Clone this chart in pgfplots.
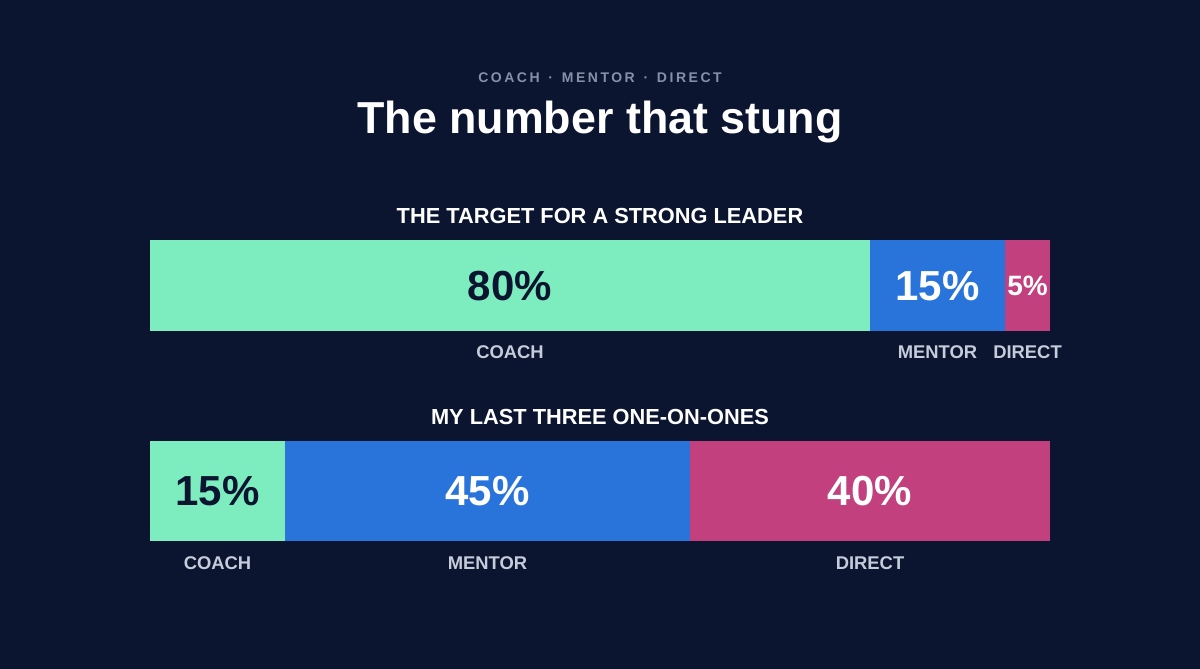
\documentclass[border=0pt]{standalone}
\usepackage{pgfplots}
\pgfplotsset{compat=1.18}
\usepackage{fontspec}
\setmainfont{Liberation Sans}
\definecolor{bg}{HTML}{0B1530}
\definecolor{coach}{HTML}{7DEDC0}
\definecolor{mentor}{HTML}{2874DB}
\definecolor{direct}{HTML}{C1407D}
\definecolor{lbl}{HTML}{C5CCDA}
\definecolor{sub}{HTML}{8790A8}
\pgfplotsset{
  barstyle/.style={
    scale only axis, width=450pt, xmin=0, xmax=100, ymin=-0.5, ymax=0.5,
    xbar stacked, hide axis, clip=false, anchor=south west,
  },
}
\tikzset{
  pct/.style={anchor=base, font=\fontsize{21}{24}\selectfont\bfseries},
  cat/.style={anchor=base, text=lbl, font=\fontsize{9.2}{11}\selectfont\bfseries},
}
\begin{document}
\begin{tikzpicture}
\fill[bg] (0pt,0pt) rectangle (600pt,334.5pt);
\node[anchor=base, text=sub, font=\fontsize{7}{9}\selectfont\bfseries\addfontfeature{LetterSpace=18}] at (300pt,293pt) {COACH \,·\, MENTOR \,·\, DIRECT};
\node[anchor=base, text=white, font=\fontsize{22.4}{26}\selectfont\bfseries] at (300pt,267.5pt) {The number that stung};
\node[anchor=base, text=white, font=\fontsize{10.9}{13}\selectfont\bfseries] at (300pt,222.5pt) {THE TARGET FOR A STRONG LEADER};
\node[anchor=base, text=white, font=\fontsize{10.9}{13}\selectfont\bfseries] at (300pt,122pt) {MY LAST THREE ONE-ON-ONES};

\begin{axis}[barstyle, at={(75pt,169pt)}, height=45.5pt, bar width=45.5pt]
\addplot[fill=coach, draw=none] coordinates {(80,0)};
\addplot[fill=mentor, draw=none] coordinates {(15,0)};
\addplot[fill=direct, draw=none] coordinates {(5,0)};
\coordinate (a1) at (axis cs:40,0);
\coordinate (a2) at (axis cs:87.5,0);
\coordinate (a3) at (axis cs:97.5,0);
\coordinate (ab1) at (axis cs:40,-0.5);
\coordinate (ab2) at (axis cs:87.5,-0.5);
\coordinate (ab3) at (axis cs:97.5,-0.5);
\end{axis}
\node[pct, text=bg, yshift=-7.5pt] at (a1) {80\%};
\node[pct, text=white, yshift=-7.5pt] at (a2) {15\%};
\node[pct, text=white, yshift=-5pt, font=\fontsize{14}{16}\selectfont\bfseries] at (a3) {5\%};
\node[cat, yshift=-14pt] at (ab1) {COACH};
\node[cat, yshift=-14pt] at (ab2) {MENTOR};
\node[cat, yshift=-14pt] at (ab3) {DIRECT};

\begin{axis}[barstyle, at={(75pt,64pt)}, height=50pt, bar width=50pt]
\addplot[fill=coach, draw=none] coordinates {(15,0)};
\addplot[fill=mentor, draw=none] coordinates {(45,0)};
\addplot[fill=direct, draw=none] coordinates {(40,0)};
\coordinate (b1) at (axis cs:7.5,0);
\coordinate (b2) at (axis cs:37.5,0);
\coordinate (b3) at (axis cs:80,0);
\coordinate (bb1) at (axis cs:7.5,-0.5);
\coordinate (bb2) at (axis cs:37.5,-0.5);
\coordinate (bb3) at (axis cs:80,-0.5);
\end{axis}
\node[pct, text=bg, yshift=-7.5pt] at (b1) {15\%};
\node[pct, text=white, yshift=-7.5pt] at (b2) {45\%};
\node[pct, text=white, yshift=-7.5pt] at (b3) {40\%};
\node[cat, yshift=-14.5pt] at (bb1) {COACH};
\node[cat, yshift=-14.5pt] at (bb2) {MENTOR};
\node[cat, yshift=-14.5pt] at (bb3) {DIRECT};
\end{tikzpicture}
\end{document}
